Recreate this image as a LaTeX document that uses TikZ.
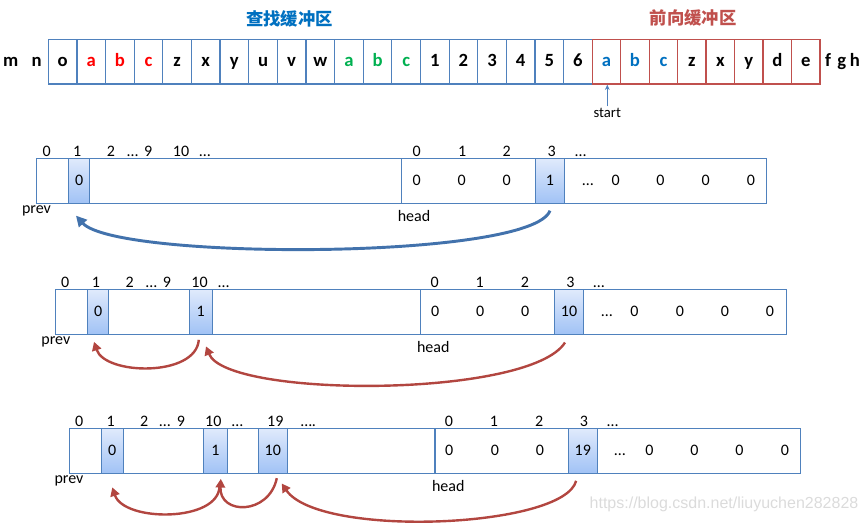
\documentclass[tikz,border=0pt]{standalone}
\usepackage{fontspec}
\setmainfont{Carlito}
\newfontfamily\cjk{Noto Sans CJK SC}
\newfontfamily\wmfont{Liberation Sans}
\usetikzlibrary{arrows.meta, positioning}

\definecolor{boxblue}{RGB}{79,129,189}
\definecolor{boxred}{RGB}{192,80,77}
\definecolor{txtblue}{RGB}{0,112,192}
\definecolor{txtred}{RGB}{255,0,0}
\definecolor{txtgreen}{RGB}{0,176,80}
\definecolor{hltop}{RGB}{224,234,252}
\definecolor{hlbot}{RGB}{160,194,245}
\definecolor{arrblue}{RGB}{66,114,172}
\definecolor{arrred}{RGB}{178,70,64}

\begin{document}
\begin{tikzpicture}[
    x=0.75pt, y=-0.75pt,
    cell/.style={draw=boxblue, line width=0.9pt, minimum width=21.45pt, minimum height=33.5pt, inner sep=0pt, text height=10pt, text depth=2.5pt, font=\fontsize{14}{16}\selectfont\bfseries},
    fcell/.style={cell, draw=boxred},
    side/.style={anchor=base, inner sep=0pt, font=\fontsize{14}{16}\selectfont\bfseries},
    idx/.style={anchor=base, inner sep=0pt, font=\fontsize{12}{14}\selectfont},
    hcell/.style={draw=boxblue, line width=0.6pt, top color=hltop, bottom color=hlbot, minimum height=34.1pt, inner sep=0pt, text height=8.5pt, text depth=1.5pt, font=\fontsize{12}{14}\selectfont},
    rowbox/.style={draw=boxblue, line width=0.75pt},
    blink/.style={-{Triangle[length=8pt, width=8pt]}, line width=2.2pt, arrblue},
    rlink/.style={-{Triangle[length=6.5pt, width=7pt]}, line width=1.8pt, arrred}
]
    \useasboundingbox (0,0) rectangle (868,523);

    % 两个缓冲区
    \node[font=\cjk\fontsize{13}{15}\selectfont\bfseries, text=txtblue] (t1) at (289.5,19.2) {查找缓冲区};
    \node[font=\cjk\fontsize{13}{15}\selectfont\bfseries, text=boxred] (t2) at (693,18) {前向缓冲区};

    \node[side] (m) at (10.7,66.7) {m};
    \node[side] (n) at (36.7,66.7) {n};
    \foreach \ch/\col [count=\i] in {o/black, a/txtred, b/txtred, c/txtred, z/black, x/black, y/black, u/black, v/black, w/black, a/txtgreen, b/txtgreen, c/txtgreen, 1/black, 2/black, 3/black, 4/black, 5/black, 6/black}
        \node[cell, text=\col] (s\i) at ({48.3+28.63*(\i-0.5)},61.7) {\ch};
    \foreach \ch/\col [count=\i] in {a/txtblue, b/txtblue, c/txtblue, z/black, x/black, y/black, d/black, e/black}
        \node[fcell, text=\col] (f\i) at ({592.3+28.46*(\i-0.5)},61.7) {\ch};
    \node[side] (f) at (828,66.7) {f};
    \node[side] (g) at (841.7,66.7) {g};
    \node[side] (h) at (855,66.7) {h};

    \node[font=\fontsize{11}{13}\selectfont, inner sep=1pt, anchor=base] (start) at (607.3,117.3) {start};
    \draw[-{Stealth[length=4pt, width=3.5pt]}, boxblue, line width=0.6pt] (start.north) -- (start.north |- f1.south);

    % 第一行
    \begin{scope}[shift={(36,158.3)}]
        \draw[rowbox] (0,0) rectangle (730.7,45);
        \draw[rowbox] (365.7,0) -- (365.7,45);
        \node[hcell, minimum width=15.75pt] (c1) at (43.3,22.75) {0};
        \node[hcell, minimum width=21.45pt] (c3) at (514,22.75) {1};
        \foreach \t/\px [count=\k] in {0/10.7, 1/41.3, 2/75, \ldots/96.7, 9/112.3, 10/145, \ldots/169, 0/380.7, 1/426.3, 2/470.7, 3/515.7, \ldots/544.7}
            \node[idx] (ix\k) at (\px,-1.6) {\t};
        \foreach \t/\px [count=\k] in {0/380.7, 0/425.7, 0/470.7, \ldots/552, 0/579.7, 0/624.3, 0/669.7, 0/715}
            \node[idx] (vx\k) at (\px,27.4) {\t};
        \node[idx] (prev) at (0.5,55.5) {prev};
        \node[idx] (head) at (378,63.2) {head};
        \draw[blink] ([yshift=-4.9pt]c3.south) .. controls (495,102) and (80,102) .. ([xshift=-2.5pt,yshift=-8.6pt]c1.south);
    \end{scope}

    % 第二行
    \begin{scope}[shift={(55,289.3)}]
        \draw[rowbox] (0,0) rectangle (731,45);
        \draw[rowbox] (365.7,0) -- (365.7,45);
        \node[hcell, minimum width=15.75pt] (c1) at (43.3,22.75) {0};
        \node[hcell, minimum width=17.4pt] (c10) at (145.8,22.75) {1};
        \node[hcell, minimum width=21.45pt] (c3) at (514,22.75) {10};
        \foreach \t/\px [count=\k] in {0/10.3, 1/41, 2/74.6, \ldots/96.3, 9/112, 10/144.6, \ldots/168.6, 0/379.6, 1/424.6, 2/469.8, 3/515.3, \ldots/544}
            \node[idx] (ix\k) at (\px,-1.6) {\t};
        \foreach \t/\px [count=\k] in {0/380.2, 0/425.3, 0/470.3, \ldots/552, 0/579.5, 0/624.8, 0/669.8, 0/715}
            \node[idx] (vx\k) at (\px,27.4) {\t};
        \node[idx] (prev) at (0.8,55.5) {prev};
        \node[idx] (head) at (378.3,63) {head};
        \draw[rlink] ([xshift=-1.5pt,yshift=-3.5pt]c10.south) .. controls (141,88) and (50,86) .. ([xshift=-3.2pt,yshift=-5pt]c1.south);
        \draw[rlink] ([xshift=-3pt,yshift=-5.5pt]c3.south) .. controls (475,109) and (172,109) .. ([xshift=3.9pt,yshift=-8.4pt]c10.south);
    \end{scope}

    % 第三行
    \begin{scope}[shift={(69,428.3)}]
        \draw[rowbox] (0,0) rectangle (731,45);
        \draw[rowbox, line width=1.2pt] (366,0) -- (366,45);
        \node[hcell, minimum width=16.5pt] (c1) at (43.3,22.75) {0};
        \node[hcell, minimum width=18.3pt] (c10) at (146.5,22.75) {1};
        \node[hcell, minimum width=21.75pt] (c19) at (203.8,22.75) {10};
        \node[hcell, minimum width=21.75pt] (c3) at (513.8,22.75) {19};
        \foreach \t/\px [count=\k] in {0/10.3, 1/41.7, 2/75.3, \ldots/96, 9/112, 10/144.3, \ldots/168.3, 19/206.3, \ldots./239.3, 0/380, 1/425, 2/470.3, 3/515, \ldots/543.7}
            \node[idx] (ix\k) at (\px,-1.6) {\t};
        \foreach \t/\px [count=\k] in {0/380.3, 0/426, 0/471, \ldots/551, 0/580.3, 0/625.3, 0/670.3, 0/716}
            \node[idx] (vx\k) at (\px,27.4) {\t};
        \node[idx] (prev) at (0,55.5) {prev};
        \node[idx] (head) at (379.3,63.4) {head};
        \draw[rlink] ([xshift=3pt,yshift=-9pt]c10.south) .. controls (150,94) and (55,94) .. ([yshift=-9.9pt]c1.south);
        \draw[rlink] ([xshift=3pt,yshift=-3pt]c19.south) .. controls (200,87) and (150,87) .. ([xshift=4pt,yshift=-3.5pt]c10.south);
        \draw[rlink] ([xshift=-5pt,yshift=-5pt]c3.south) .. controls (495,100) and (250,110) .. ([xshift=6.7pt,yshift=-7pt]c19.south);
    \end{scope}

    \node[font=\wmfont\fontsize{12}{14}\selectfont, text=gray!28] (wm) at (724,504) {https://blog.csdn.net/liuyuchen282828};
\end{tikzpicture}
\end{document}
